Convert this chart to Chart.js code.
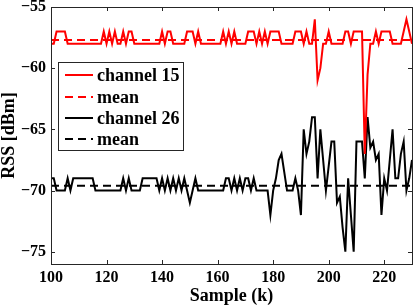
<!DOCTYPE html>
<html>
<head>
<meta charset="utf-8">
<script src="https://cdn.jsdelivr.net/npm/chart.js@4.4.1/dist/chart.umd.min.js"></script>
<style>
  html, body { margin: 0; padding: 0; background: #fff; }
</style>
</head>
<body>
<canvas id="c" width="415" height="308"></canvas>
<script>
const samples = [100,101,102,103,104,105,106,107,108,109,110,111,112,113,114,115,116,117,118,119,
120,121,122,123,124,125,126,127,128,129,130,131,132,133,134,135,136,137,138,139,
140,141,142,143,144,145,146,147,148,149,150,151,152,153,154,155,156,157,158,159,
160,161,162,163,164,165,166,167,168,169,170,171,172,173,174,175,176,177,178,179,
180,181,182,183,184,185,186,187,188,189,190,191,192,193,194,195,196,197,198,199,
200,201,202,203,204,205,206,207,208,209,210,211,212,213,214,215,216,217,218,219,
220,221,222,223,224,225,226,227,228,229,230];

const channel15 = [
-58,-58,-57,-57,-57,-57,-58,-58,-58,-58, // 100-109
-58,-58,-58,-58,-58,-58,-58,-58,-58,-57, // 110-119
-58,-57,-58,-57,-58,-58,-57,-58,-57,-57, // 120-129
-58,-58,-58,-58,-58,-58,-58,-58,-58,-58, // 130-139
-57,-58,-57,-57,-58,-58,-58,-58,-58,-57, // 140-149
-57,-57,-58,-57,-58,-58,-58,-58,-58,-58, // 150-159
-58,-58,-57,-58,-57,-58,-57,-58,-58,-58, // 160-169
-58,-57,-57,-57,-58,-57,-58,-57,-58,-57, // 170-179
-57,-57,-57,-58,-58,-58,-58,-58,-57,-57, // 180-189
-57,-58,-57,-58,-58,-56,-61,-60,-58,-58, // 190-199
-57,-58,-58,-58,-58,-58,-57,-57,-58,-57, // 200-209
-57,-57,-57,-67,-60.5,-58,-58,-57,-58,-57, // 210-219
-57,-57,-57,-58,-58,-58,-58,-57,-56,-57, // 220-229
-58                                      // 230
];

const channel26 = [
-69,-69,-70,-70,-70,-70,-69,-70,-69,-69, // 100-109
-69,-69,-69,-69,-69,-69,-70,-70,-70,-70, // 110-119
-70,-70,-70,-70,-70,-70,-69,-70,-69,-70, // 120-129
-70,-70,-70,-69,-69,-69,-69,-69,-69,-70, // 130-139
-69,-70,-69,-70,-69,-70,-69,-70,-69,-70, // 140-149
-71,-70,-69,-70,-70,-70,-70,-70,-70,-70, // 150-159
-70,-70,-70,-69,-69,-70,-69,-70,-69,-70, // 160-169
-69,-69,-70,-69,-70,-70,-70,-70,-70,-72, // 170-179
-70,-69,-67.5,-67,-68.5,-70,-70,-70,-69,-70, // 180-189
-72,-65,-67,-66,-64,-64,-69,-65,-67.5,-70, // 190-199
-68,-66,-66,-71,-70.5,-73,-75,-69,-72,-75, // 200-209
-66,-66,-66,-69,-64,-66.5,-66,-67.5,-67,-72, // 210-219
-69,-70,-67.5,-65,-69,-69,-67,-66,-70,-69, // 220-229
-67.5                                    // 230
];

const mean15 = -57.7;
const mean26 = -69.6;

const xTicks = [100, 120, 140, 160, 180, 200, 220];
const yTicks = [-75, -70, -65, -60, -55];

const seriesLabels = ['channel 15', 'mean', 'channel 26', 'mean'];

const pts = (vals) => samples.map((s, i) => ({ x: s, y: vals[i] }));
const flat = (v) => [{ x: samples[0], y: v }, { x: samples[samples.length - 1], y: v }];

const FAMILY = '"Liberation Serif", "DejaVu Serif", serif';
const LEGEND_FONT = 'bold 18px ' + FAMILY;
const AXIS = '#262626';

const frame = {
  id: 'frame',
  afterDraw(chart) {
    const { ctx, chartArea: a, scales } = chart;
    ctx.save();
    ctx.strokeStyle = AXIS;
    ctx.lineWidth = 1;
    const tl = 4;
    ctx.beginPath();
    xTicks.forEach(v => {
      const x = Math.round(scales.x.getPixelForValue(v)) + 0.5;
      ctx.moveTo(x, a.bottom); ctx.lineTo(x, a.bottom - tl);
      ctx.moveTo(x, a.top); ctx.lineTo(x, a.top + tl);
    });
    yTicks.forEach(v => {
      const y = Math.round(scales.y.getPixelForValue(v)) + 0.5;
      ctx.moveTo(a.left, y); ctx.lineTo(a.left + tl, y);
      ctx.moveTo(a.right, y); ctx.lineTo(a.right - tl, y);
    });
    ctx.stroke();
    ctx.strokeRect(Math.round(a.left) + 0.5, Math.round(a.top) + 0.5,
                   Math.round(a.right - a.left), Math.round(a.bottom - a.top));
    // legend
    const bx = 58.5, by = 62.5, bw = 125, bh = 88;
    ctx.fillStyle = '#fff';
    ctx.fillRect(bx, by, bw, bh);
    ctx.strokeRect(bx, by, bw, bh);
    const rows = [75, 97, 118, 139];
    chart.data.datasets.forEach((ds, i) => {
      const y = rows[i];
      ctx.save();
      ctx.strokeStyle = ds.borderColor;
      ctx.lineWidth = 2;
      ctx.setLineDash(ds.borderDash || []);
      ctx.beginPath();
      ctx.moveTo(65, y); ctx.lineTo(93, y);
      ctx.stroke();
      ctx.restore();
      ctx.fillStyle = '#000';
      ctx.font = LEGEND_FONT;
      ctx.textBaseline = 'middle';
      ctx.textAlign = 'left';
      ctx.fillText(ds.label, 97, y + 1);
    });
    ctx.restore();
  }
};

const tickFont = { family: FAMILY, size: 16, weight: 'bold' };
const titleFont = { family: FAMILY, size: 18, weight: 'bold' };

new Chart(document.getElementById('c'), {
  type: 'line',
  data: {
    datasets: [
      { label: seriesLabels[0], data: pts(channel15), borderColor: '#ff0000', borderWidth: 2, pointRadius: 0, fill: false, tension: 0 },
      { label: seriesLabels[1], data: flat(mean15), borderColor: '#ff0000', borderWidth: 2, borderDash: [8, 5], pointRadius: 0, fill: false },
      { label: seriesLabels[2], data: pts(channel26), borderColor: '#000000', borderWidth: 2, pointRadius: 0, fill: false, tension: 0 },
      { label: seriesLabels[3], data: flat(mean26), borderColor: '#000000', borderWidth: 2, borderDash: [8, 5], pointRadius: 0, fill: false }
    ]
  },
  options: {
    responsive: false,
    animation: false,
    layout: { padding: { left: 0, top: 7, right: 3, bottom: 0 } },
    plugins: { legend: { display: false }, tooltip: { enabled: false } },
    scales: {
      x: {
        type: 'linear', min: 100, max: 230,
        afterBuildTicks: (s) => { s.ticks = xTicks.map(v => ({ value: v })); },
        afterFit: (s) => { s.height = 44; s.paddingLeft = 0; s.paddingRight = 0; },
        grid: { display: false, drawTicks: false },
        border: { display: false },
        ticks: { color: '#000', font: tickFont, padding: 4, maxRotation: 0, callback: (v) => String(v) },
        title: { display: true, text: 'Sample (k)', color: '#000', font: titleFont, padding: { top: 0, bottom: 1 } }
      },
      y: {
        type: 'linear', min: -76, max: -55,
        afterBuildTicks: (s) => { s.ticks = yTicks.map(v => ({ value: v })); },
        afterFit: (s) => { s.width = 51; s.paddingTop = 0; s.paddingBottom = 0; },
        grid: { display: false, drawTicks: false },
        border: { display: false },
        ticks: { color: '#000', font: tickFont, padding: 5, callback: (v) => '\u2212' + Math.abs(v) },
        title: { display: true, text: 'RSS [dBm]', color: '#000', font: titleFont, padding: { top: -1, bottom: 0 } }
      }
    }
  },
  plugins: [frame]
});
</script>
</body>
</html>
